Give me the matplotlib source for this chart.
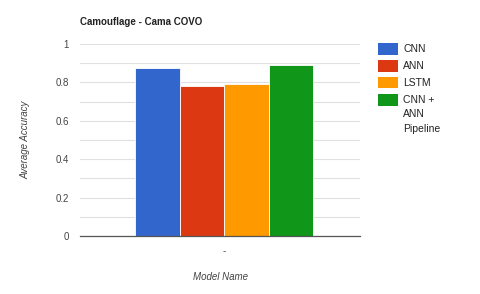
import matplotlib.pyplot as plt
from matplotlib.patches import Rectangle

plt.rcParams['font.family'] = ['Liberation Sans', 'DejaVu Sans']

models = ['CNN', 'ANN', 'LSTM', 'CNN +\nANN\nPipeline']
accuracy = [0.873, 0.783, 0.792, 0.893]
colors = ['#3366cc', '#dc3912', '#ff9900', '#109618']

W, H = 480, 294
fig = plt.figure(figsize=(W / 100, H / 100), dpi=100)
ax = fig.add_axes([0.1667, 0.197, 0.5833, 0.653])

pos = list(range(len(models)))
ax.bar(pos, accuracy, width=1.0, color=colors, edgecolor='white', linewidth=0.6, zorder=3)

ax.set_xlim(-1.74, 4.55)
ax.set_ylim(0, 1)
ax.set_yticks([0, 0.2, 0.4, 0.6, 0.8, 1.0])
ax.set_yticklabels(['0', '0.2', '0.4', '0.6', '0.8', '1'])
ax.set_yticks([0.1, 0.3, 0.5, 0.7, 0.9], minor=True)
ax.grid(axis='y', which='both', color='#e0e0e0', linewidth=0.8, zorder=0)
ax.set_xticks([1.5])
ax.set_xticklabels(['-'], fontsize=4, color='#999999')

for s in ['top', 'right', 'left']:
    ax.spines[s].set_visible(False)
ax.spines['bottom'].set_color('#555555')
ax.spines['bottom'].set_linewidth(0.9)
ax.spines['bottom'].set_zorder(4)
ax.tick_params(axis='both', which='both', length=0, labelsize=7, colors='#444444', pad=8)
ax.tick_params(axis='x', pad=7)

ax.set_xlabel('Model Name', fontsize=7, style='italic', color='#444444', labelpad=12)
ax.set_ylabel('Average Accuracy', fontsize=7, style='italic', color='#444444', labelpad=18)

fig.text(80 / W, 1 - 22 / H, 'Camouflage - Cama COVO', fontsize=7, fontweight='bold',
         color='#222222', va='center')

# legend drawn by hand: text top-aligned with the swatch
y = 49
for name, c in zip(models, colors):
    fig.patches.append(Rectangle((378 / W, 1 - (y + 5.5) / H), 20 / W, 11 / H,
                                 transform=fig.transFigure, facecolor=c, edgecolor='none'))
    fig.text(403 / W, 1 - (y - 5) / H, name, fontsize=7.5, color='#222222', va='top',
             linespacing=1.55)
    y += 17

fig.savefig('out.png', dpi=100)
